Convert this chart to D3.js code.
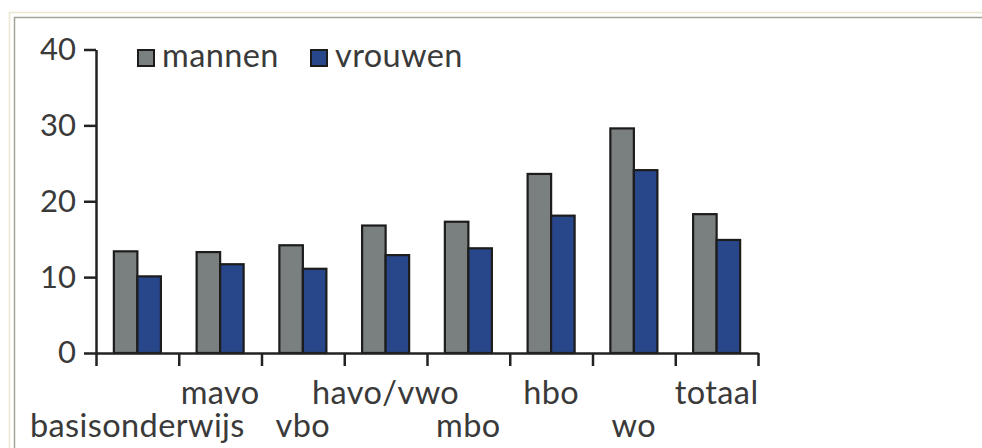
<!DOCTYPE html>
<html>
<head>
<meta charset="utf-8">
<script src="https://cdn.jsdelivr.net/npm/d3@7"></script>
<style>
  html, body { margin: 0; padding: 0; background: #fff; }
  svg { display: block; }
  text { font-family: Lato, "Open Sans", sans-serif; fill: #3a3a3a; }
</style>
</head>
<body>
<div id="chart"></div>
<script>
// Opleidingsniveau, mannen vs vrouwen

const categories = ['basisonderwijs', 'mavo', 'vbo', 'havo/vwo', 'mbo', 'hbo', 'wo', 'totaal'];
const series = ['mannen', 'vrouwen'];
const mannen = [13.4, 13.3, 14.2, 16.8, 17.3, 23.6, 29.6, 18.3];
const vrouwen = [10.1, 11.7, 11.1, 12.9, 13.8, 18.1, 24.1, 14.9];
const yTicks = [0, 10, 20, 30, 40];

const colors = { mannen: '#7a7f80', vrouwen: '#28478b' };
const values = { mannen: mannen, vrouwen: vrouwen };

const width = 982;
const height = 448;

const svg = d3.select('#chart')
  .append('svg')
  .attr('width', width)
  .attr('height', height);

// frame
svg.append('rect')
  .attr('x', 9.5).attr('y', 12.5)
  .attr('width', width).attr('height', height)
  .attr('fill', 'none')
  .attr('stroke', '#ebe7cf')
  .attr('stroke-width', 1.5);
svg.append('rect')
  .attr('x', 14.5).attr('y', 17.5)
  .attr('width', width).attr('height', height)
  .attr('fill', 'none')
  .attr('stroke', '#a3a396')
  .attr('stroke-width', 1.5);

const x = d3.scaleBand()
  .domain(categories)
  .range([96, 758])
  .padding(0);

const xSub = d3.scaleBand()
  .domain(series)
  .range([0, x.bandwidth()])
  .paddingInner(0)
  .paddingOuter(0.76);

const y = d3.scaleLinear()
  .domain([0, 40])
  .range([353, 49.5]);

// bars
const groups = svg.append('g')
  .selectAll('g')
  .data(categories)
  .join('g')
  .attr('transform', d => `translate(${x(d)},0)`);

groups.selectAll('rect')
  .data((d, i) => series.map(s => ({ key: s, value: values[s][i] })))
  .join('rect')
  .attr('x', d => xSub(d.key))
  .attr('y', d => y(d.value))
  .attr('width', xSub.bandwidth())
  .attr('height', d => y(0) - y(d.value))
  .attr('fill', d => colors[d.key])
  .attr('stroke', '#1c1c1c')
  .attr('stroke-width', 2.2);

// y axis
const yAxis = svg.append('g')
  .attr('transform', 'translate(96,0)')
  .call(d3.axisLeft(y).tickValues(yTicks).tickSize(12).tickSizeOuter(0).tickPadding(8));

// x axis, ticks on band boundaries
const xb = d3.scaleLinear().domain([0, categories.length]).range(x.range());
const xAxis = svg.append('g')
  .attr('transform', `translate(0,${y(0)})`)
  .call(d3.axisBottom(xb).tickValues(d3.range(categories.length + 1)).tickFormat('').tickSize(13).tickSizeOuter(0));

[yAxis, xAxis].forEach(a => {
  a.selectAll('path, line').attr('stroke', '#222').attr('stroke-width', 2.5);
});
yAxis.selectAll('text')
  .attr('fill', '#3a3a3a')
  .style('font-size', '31px');

// category labels, alternating rows
svg.append('g')
  .selectAll('text')
  .data(categories)
  .join('text')
  .attr('x', d => x(d) + x.bandwidth() / 2)
  .attr('y', (d, i) => i % 2 ? 404 : 437)
  .attr('text-anchor', 'middle')
  .style('font-size', '32.5px')
  .style('letter-spacing', '0.4px')
  .text(d => d);

// legend
const legend = svg.append('g')
  .selectAll('g')
  .data(series)
  .join('g')
  .attr('transform', (d, i) => `translate(${i ? 311 : 138},50)`);

legend.append('rect')
  .attr('width', 16)
  .attr('height', 16)
  .attr('fill', d => colors[d])
  .attr('stroke', '#1c1c1c')
  .attr('stroke-width', 2);

legend.append('text')
  .attr('x', 24)
  .attr('y', 17)
  .style('font-size', '32.5px')
  .style('letter-spacing', '0.4px')
  .text(d => d);
</script>
</body>
</html>
